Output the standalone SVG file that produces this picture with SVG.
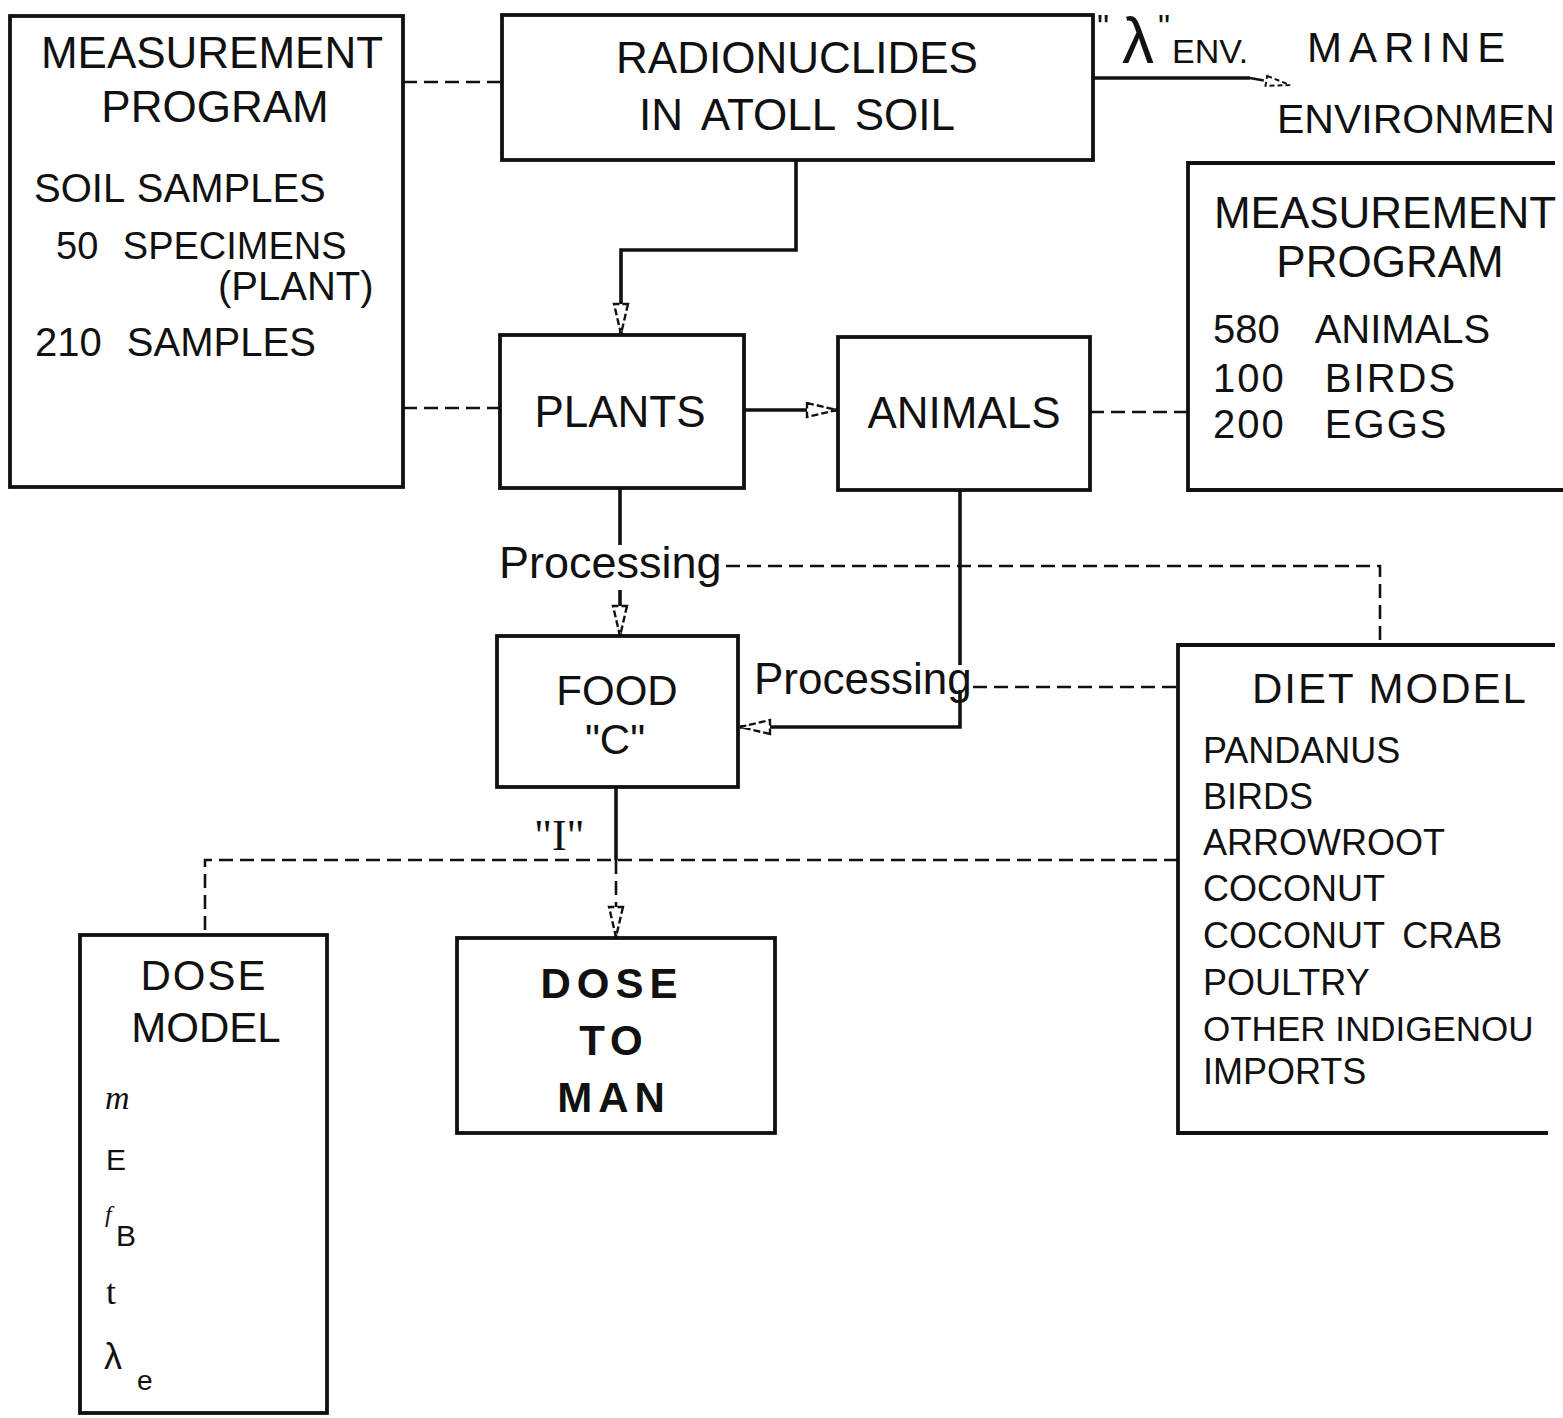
<svg xmlns="http://www.w3.org/2000/svg" width="1563" height="1418" viewBox="0 0 1563 1418">
<defs>
<style>
.box{fill:none;stroke:#111;stroke-width:3.8;stroke-linejoin:miter}
.t{font-family:"Liberation Sans",Arial,sans-serif;fill:#111}
.c{text-anchor:middle}
.solid{fill:none;stroke:#111;stroke-width:3.6}
.dash{fill:none;stroke:#111;stroke-width:2.6;stroke-dasharray:14 7}
.sym{font-family:"Liberation Serif","Times New Roman",serif;fill:#111}
</style>
<marker id="ah" markerUnits="userSpaceOnUse" markerWidth="34" markerHeight="18" refX="32" refY="9" orient="auto">
<path d="M2,2 L32,9 L2,16 Z" fill="#fff" stroke="#111" stroke-width="2.4" stroke-dasharray="7 3"/>
</marker>
<marker id="ahs" markerUnits="userSpaceOnUse" markerWidth="28" markerHeight="14" refX="26" refY="7" orient="auto">
<path d="M2,2 L26,7 L2,12 Z" fill="#fff" stroke="#111" stroke-width="2" stroke-dasharray="5 3"/>
</marker>
</defs>
<rect width="1563" height="1418" fill="#fff"/>

<g id="connectors">
  <path class="dash" d="M403,82 H502"/>
  <path class="dash" d="M403,408 H500"/>
  <path class="solid" d="M796,160 V250 H621 V334" marker-end="url(#ah)"/>
  <path class="solid" d="M1093,78 H1250"/>
  <path class="dash" d="M1250,78 L1290,85" marker-end="url(#ahs)"/>
  <text class="t"><tspan x="1097" y="38" font-size="34">"</tspan><tspan x="1122" y="63" font-size="64">λ</tspan><tspan x="1158" y="38" font-size="34">"</tspan><tspan x="1172" y="63" font-size="34">ENV.</tspan></text>
  <path class="solid" d="M745,410 H837" marker-end="url(#ah)"/>
  <path class="dash" d="M1090,412 H1188"/>
  <path class="solid" d="M620,488 V545"/>
  <path class="solid" d="M620,590 V636" marker-end="url(#ah)"/>
  <text class="t" x="499" y="578" font-size="45">Processing</text>
  <path class="dash" d="M726,566 H1380 V645"/>
  <path class="solid" d="M960,490 V665"/>
  <path class="solid" d="M960,690 V727 H740" marker-end="url(#ah)"/>
  <text class="t" x="754" y="694" font-size="44">Processing</text>
  <path class="dash" d="M973,687 H1178"/>
  <path class="solid" d="M616,787 V860"/>
  <path class="dash" d="M616,860 V937" marker-end="url(#ah)"/>
  <text class="sym" x="534" y="850" font-size="44">"I"</text>
  <path class="dash" d="M1178,860 H205 V935"/>
</g>

<g id="measurement-left">
  <rect class="box" x="10" y="16" width="393" height="471"/>
  <text class="t c" x="212" y="68" font-size="44">MEASUREMENT</text>
  <text class="t c" x="215" y="122" font-size="44">PROGRAM</text>
  <text class="t" x="34" y="202" font-size="40" word-spacing="2">SOIL SAMPLES</text>
  <text class="t" x="56" y="259" font-size="38" word-spacing="14">50 SPECIMENS</text>
  <text class="t" x="218" y="300" font-size="40">(PLANT)</text>
  <text class="t" x="35" y="356" font-size="40" word-spacing="14">210 SAMPLES</text>
</g>

<g id="radionuclides">
  <rect class="box" x="502" y="15" width="591" height="145"/>
  <text class="t c" x="797" y="73" font-size="44">RADIONUCLIDES</text>
  <text class="t c" x="797" y="130" font-size="44" word-spacing="8">IN ATOLL SOIL</text>
</g>

<g id="marine-environment">
  <text class="t" x="1307" y="62" font-size="42" letter-spacing="7">MARINE</text>
  <text class="t" x="1277" y="133" font-size="41">ENVIRONMEN</text>
</g>

<g id="measurement-right">
  <path class="box" d="M1555,163 H1188 V490 H1563"/>
  <text class="t c" x="1385" y="228" font-size="44">MEASUREMENT</text>
  <text class="t c" x="1390" y="277" font-size="44">PROGRAM</text>
  <text class="t" x="1213" y="343" font-size="40" word-spacing="26">580 ANIMALS</text>
  <text class="t" x="1213" y="392" font-size="40" word-spacing="26" letter-spacing="2">100 BIRDS</text>
  <text class="t" x="1213" y="438" font-size="40" word-spacing="26" letter-spacing="2">200 EGGS</text>
</g>

<g id="plants">
  <rect class="box" x="500" y="335" width="244" height="153"/>
  <text class="t c" x="620" y="427" font-size="44">PLANTS</text>
</g>

<g id="animals">
  <rect class="box" x="838" y="337" width="252" height="153"/>
  <text class="t c" x="964" y="428" font-size="44">ANIMALS</text>
</g>

<g id="food">
  <rect class="box" x="497" y="636" width="241" height="151"/>
  <text class="t c" x="617" y="705" font-size="42">FOOD</text>
  <text class="t c" x="615" y="754" font-size="42">"C"</text>
</g>

<g id="diet-model">
  <path class="box" d="M1555,645 H1178 V1133 H1548"/>
  <text class="t c" x="1390" y="703" font-size="42" letter-spacing="2">DIET MODEL</text>
  <text class="t" x="1203" y="763" font-size="36">PANDANUS</text>
  <text class="t" x="1203" y="809" font-size="36">BIRDS</text>
  <text class="t" x="1203" y="855" font-size="36">ARROWROOT</text>
  <text class="t" x="1203" y="901" font-size="36">COCONUT</text>
  <text class="t" x="1203" y="948" font-size="36" word-spacing="8">COCONUT CRAB</text>
  <text class="t" x="1203" y="995" font-size="36">POULTRY</text>
  <text class="t" x="1203" y="1041" font-size="35">OTHER INDIGENOU</text>
  <text class="t" x="1203" y="1084" font-size="36">IMPORTS</text>
</g>

<g id="dose-model">
  <rect class="box" x="80" y="935" width="247" height="478"/>
  <text class="t c" x="204" y="990" font-size="42" letter-spacing="2">DOSE</text>
  <text class="t c" x="206" y="1042" font-size="42">MODEL</text>
  <text class="sym" x="105" y="1109" font-size="34" font-style="italic">m</text>
  <text class="t" x="106" y="1170" font-size="30">E</text>
  <text class="t"><tspan class="sym" x="105" y="1222" font-size="24" font-style="italic">f</tspan><tspan x="116" y="1246" font-size="30">B</tspan></text>
  <text class="sym" x="106" y="1304" font-size="36">t</text>
  <text class="t"><tspan x="104" y="1369" font-size="36">λ</tspan><tspan x="137" y="1390" font-size="28">e</tspan></text>
</g>

<g id="dose-to-man">
  <rect class="box" x="457" y="938" width="318" height="195"/>
  <text class="t c" x="612" y="998" font-size="42" font-weight="bold" letter-spacing="6">DOSE</text>
  <text class="t c" x="614" y="1055" font-size="42" font-weight="bold" letter-spacing="6">TO</text>
  <text class="t c" x="614" y="1112" font-size="42" font-weight="bold" letter-spacing="6">MAN</text>
</g>
</svg>
